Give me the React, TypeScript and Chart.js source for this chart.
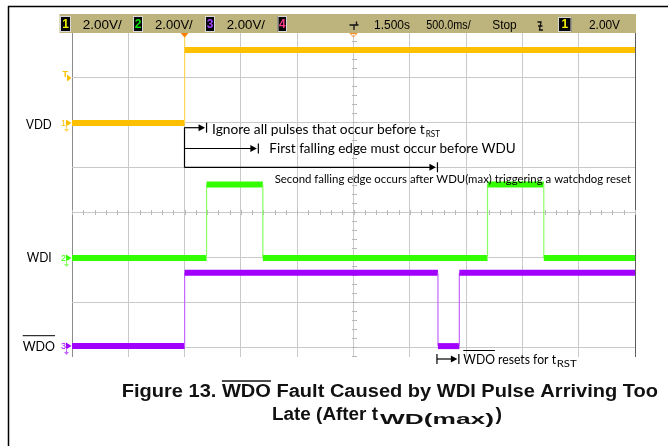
import React, { useEffect, useRef } from "react";
import { Chart, registerables } from "chart.js";

Chart.register(...registerables);

// Time in horizontal divisions (500 ms/div), level in vertical divisions (2 V/div)
const VDD_T = [0, 2.0, 2.0, 2.0, 10];
const VDD_V = [1.98, 1.98, 3.92, 3.6, 3.6];
const WDI_T = [0, 2.39, 2.39, 3.39, 3.39, 7.38, 7.38, 8.38, 8.38, 10];
const WDI_V = [-1.02, -1.02, 0.61, 0.61, -1.02, -1.02, 0.61, 0.61, -1.02, -1.02];
const WDO_T = [0, 2.0, 2.0, 6.5, 6.5, 6.88, 6.88, 10];
const WDO_V = [-2.98, -2.98, -1.35, -1.35, -2.98, -2.98, -1.35, -1.35];

const X_GRID = [0, 1, 2, 3, 4, 5, 6, 7, 8, 9, 10];
const Y_GRID = [-3, -2, -1, 0, 1, 2, 3, 4];

const CHANNEL_NAMES = ["VDD", "WDI", "WDO"];
const GROUND_LEVELS = [1.98, -1.02, -2.98];
const TRIGGER_LEVEL = 2.98;
const TRIGGER_TIME = 2.0;
const DELAY_MARK = 5.0;

const HEADER_SCALES = ["2.00V/", "2.00V/", "2.00V/"];
const TIME_POS = "1.500s";
const TIME_DIV = "500.0ms/";
const RUN_STATE = "Stop";
const TRIG_VALUE = "2.00V";

const YEL = "#fcc000";
const YEL_EDGE = "#ffd659";
const GRN = "#33ff00";
const GRN_EDGE = "#8cff66";
const PUR = "#a100ff";
const PUR_EDGE = "#c266ff";

const TXT = "Lato, 'Open Sans', sans-serif";
const ARIAL = "'Liberation Sans', Arial, sans-serif";

function fitText(ctx: CanvasRenderingContext2D, text: string, x: number, y: number, w: number, font: string, color: string) {
  ctx.save();
  ctx.font = font;
  ctx.fillStyle = color;
  ctx.textAlign = "left";
  ctx.textBaseline = "alphabetic";
  const m = ctx.measureText(text).width;
  const s = w / m;
  ctx.translate(x, y);
  ctx.scale(s, 1);
  ctx.fillText(text, 0, 0);
  ctx.restore();
  return s;
}

function measure(ctx: CanvasRenderingContext2D, text: string, font: string) {
  ctx.save();
  ctx.font = font;
  const w = ctx.measureText(text).width;
  ctx.restore();
  return w;
}

function hline(ctx: CanvasRenderingContext2D, x0: number, x1: number, y: number, w = 1, c = "#000") {
  ctx.save();
  ctx.strokeStyle = c;
  ctx.lineWidth = w;
  ctx.beginPath();
  ctx.moveTo(x0, y);
  ctx.lineTo(x1, y);
  ctx.stroke();
  ctx.restore();
}

function vline(ctx: CanvasRenderingContext2D, x: number, y0: number, y1: number, w = 1, c = "#000") {
  ctx.save();
  ctx.strokeStyle = c;
  ctx.lineWidth = w;
  ctx.beginPath();
  ctx.moveTo(x, y0);
  ctx.lineTo(x, y1);
  ctx.stroke();
  ctx.restore();
}

function arrowRight(ctx: CanvasRenderingContext2D, x0: number, x1: number, y: number, barH: number, startBar = false) {
  hline(ctx, x0, x1 - 6, y, 1.2);
  ctx.save();
  ctx.fillStyle = "#000";
  ctx.beginPath();
  ctx.moveTo(x1 - 8, y - 3.5);
  ctx.lineTo(x1 - 1.5, y);
  ctx.lineTo(x1 - 8, y + 3.5);
  ctx.closePath();
  ctx.fill();
  ctx.restore();
  vline(ctx, x1, y - barH / 2, y + barH / 2, 1.2);
  if (startBar) vline(ctx, x0, y - barH / 2, y + barH / 2, 1.2);
}

function chanBox(ctx: CanvasRenderingContext2D, x0: number, x1: number, y0: number, y1: number, digit: string, color: string) {
  ctx.save();
  ctx.fillStyle = "#050505";
  ctx.fillRect(x0, y0, x1 - x0, y1 - y0);
  ctx.strokeStyle = "#d8d8d8";
  ctx.lineWidth = 1;
  ctx.strokeRect(x0 + 0.5, y0 + 0.5, x1 - x0 - 1, y1 - y0 - 1);
  ctx.fillStyle = color;
  ctx.font = `bold 12px ${ARIAL}`;
  ctx.textAlign = "center";
  ctx.textBaseline = "middle";
  ctx.fillText(digit, (x0 + x1) / 2, (y0 + y1) / 2 + 0.5);
  ctx.restore();
}

function chanMarker(ctx: CanvasRenderingContext2D, digit: string, py: number, color: string, edge: string) {
  ctx.save();
  ctx.fillStyle = color;
  ctx.font = `9px ${ARIAL}`;
  ctx.textAlign = "left";
  ctx.textBaseline = "alphabetic";
  ctx.fillText(digit, 61, py + 3);
  ctx.beginPath();
  ctx.moveTo(66, py - 3.5);
  ctx.lineTo(71.5, py);
  ctx.lineTo(66, py + 3.5);
  ctx.closePath();
  ctx.fill();
  // ground symbol
  ctx.strokeStyle = edge;
  ctx.fillStyle = edge;
  ctx.lineWidth = 1;
  ctx.beginPath();
  ctx.moveTo(66.5, py + 2);
  ctx.lineTo(66.5, py + 6);
  ctx.stroke();
  ctx.beginPath();
  ctx.moveTo(64, py + 6);
  ctx.lineTo(69, py + 6);
  ctx.lineTo(66.5, py + 9);
  ctx.closePath();
  ctx.fill();
  ctx.restore();
}

const scopePlugin = {
  id: "scope",
  beforeDatasetsDraw(chart: any) {
    const { ctx, scales } = chart;
    const xs = scales.x, ys = scales.y;
    const cx = Math.round(xs.getPixelForValue(5)) + 0.5;
    const cy = Math.round(ys.getPixelForValue(0)) + 0.5;
    ctx.save();
    ctx.strokeStyle = "#b8b8b8";
    ctx.lineWidth = 1;
    ctx.beginPath();
    for (let i = 0; i <= 50; i++) {
      const p = Math.round(xs.getPixelForValue(i / 5)) + 0.5;
      ctx.moveTo(p, cy - 2.5);
      ctx.lineTo(p, cy + 2.5);
    }
    for (let i = -16; i <= 20; i++) {
      const p = Math.round(ys.getPixelForValue(i / 5)) + 0.5;
      ctx.moveTo(cx - 2.5, p);
      ctx.lineTo(cx + 2.5, p);
    }
    ctx.stroke();
    ctx.restore();
  },
  afterDatasetsDraw(chart: any) {
    const { ctx, scales } = chart;
    const xs = scales.x;
    const px = (v: number) => xs.getPixelForValue(v);
    const x0 = Math.round(px(TRIGGER_TIME)) - 0.5;

    // bracket arrows
    vline(ctx, x0, 127.5, 167.5, 1.2);
    arrowRight(ctx, x0, px(WDI_T[1]), 127.7, 10);
    arrowRight(ctx, x0, px(3.31), 148.5, 10);
    arrowRight(ctx, x0, px(WDO_T[3]) - 0.5, 167.3, 10);
    arrowRight(ctx, px(WDO_T[3]) - 1, px(WDO_T[5]) - 0.5, 359, 10, true);

    fitText(ctx, "Ignore all pulses that occur before t", 212, 133.5, 212.7, `14px ${TXT}`, "#000");
    fitText(ctx, "RST", 425.7, 136.5, 14.3, `9px ${TXT}`, "#000");
    fitText(ctx, "First falling edge must occur before WDU", 269.3, 153, 246.4, `14px ${TXT}`, "#000");
    fitText(ctx, "Second falling edge occurs after WDU(max) triggering a watchdog reset", 274.7, 182.5, 356.3, `11px ${TXT}`, "#000");

    const sW = fitText(ctx, "WDO resets for t", 463.3, 364, 92.7, `14px ${TXT}`, "#000");
    const wdoW = measure(ctx, "WDO", `14px ${TXT}`) * sW;
    hline(ctx, 463.3, 463.3 + wdoW, 350.5, 1);
    fitText(ctx, "RST", 556.7, 366.5, 20, `10px ${TXT}`, "#000");
  },
  afterDraw(chart: any) {
    const { ctx, scales } = chart;
    const xs = scales.x, ys = scales.y;
    const px = (v: number) => xs.getPixelForValue(v);
    const py = (v: number) => ys.getPixelForValue(v);

    // channel names
    fitText(ctx, CHANNEL_NAMES[0], 26, 129, 25.7, `13px ${TXT}`, "#000");
    fitText(ctx, CHANNEL_NAMES[1], 26.7, 261.7, 25, `13px ${TXT}`, "#000");
    fitText(ctx, CHANNEL_NAMES[2], 22.7, 351, 32.3, `13px ${TXT}`, "#000");
    hline(ctx, 22.7, 55, 335.7, 1);

    // channel ground markers and trigger level
    chanMarker(ctx, "1", py(GROUND_LEVELS[0]), YEL, YEL_EDGE);
    chanMarker(ctx, "2", py(GROUND_LEVELS[1]), GRN, GRN_EDGE);
    chanMarker(ctx, "3", py(GROUND_LEVELS[2]), PUR, PUR_EDGE);
    const ty = py(TRIGGER_LEVEL);
    ctx.save();
    ctx.fillStyle = YEL;
    ctx.font = `bold 9px ${ARIAL}`;
    ctx.fillText("T", 62.5, ty - 1);
    ctx.beginPath();
    ctx.moveTo(67, ty - 3.5);
    ctx.lineTo(71.5, ty);
    ctx.lineTo(67, ty + 3.5);
    ctx.closePath();
    ctx.fill();
    ctx.restore();

    // header bar
    ctx.save();
    ctx.fillStyle = "#bdb37c";
    ctx.fillRect(59.5, 14, 636 - 59.5, 19);
    ctx.restore();
    chanBox(ctx, 60, 71, 16, 32, "1", "#f0f000");
    chanBox(ctx, 133, 143, 16, 32, "2", "#10e010");
    chanBox(ctx, 205, 215, 16, 32, "3", "#a040ff");
    chanBox(ctx, 277.5, 287, 16, 32, "4", "#ff3c8c");
    chanBox(ctx, 558, 571.5, 17, 32, "1", "#f0f000");
    const hf = `12.5px ${ARIAL}`;
    const hc = "#000";
    fitText(ctx, HEADER_SCALES[0], 82.7, 28.5, 39, hf, hc);
    fitText(ctx, HEADER_SCALES[1], 155, 28.5, 37.7, hf, hc);
    fitText(ctx, HEADER_SCALES[2], 226.7, 28.5, 38.3, hf, hc);
    fitText(ctx, TIME_POS, 374, 28.5, 36, hf, hc);
    fitText(ctx, TIME_DIV, 426.3, 28.5, 44.4, hf, hc);
    fitText(ctx, RUN_STATE, 492.3, 28.5, 24.4, hf, hc);
    fitText(ctx, TRIG_VALUE, 589, 28.5, 31, hf, hc);

    // trigger position symbol
    ctx.save();
    ctx.strokeStyle = "#111";
    ctx.lineWidth = 1.3;
    ctx.beginPath();
    ctx.moveTo(349.5, 25);
    ctx.lineTo(358.5, 25);
    ctx.moveTo(354, 25);
    ctx.lineTo(354, 30);
    ctx.moveTo(356.5, 21.5);
    ctx.lineTo(356.5, 25);
    ctx.stroke();
    // falling edge symbol
    ctx.beginPath();
    ctx.moveTo(537.5, 22);
    ctx.lineTo(541, 22);
    ctx.lineTo(539.5, 30);
    ctx.lineTo(543, 30);
    ctx.moveTo(538, 26);
    ctx.lineTo(542.5, 26);
    ctx.stroke();
    ctx.restore();

    // trigger point marker and delay marker
    const tx = px(TRIGGER_TIME);
    ctx.save();
    ctx.fillStyle = "#ff7f00";
    ctx.beginPath();
    ctx.moveTo(tx - 4, 33);
    ctx.lineTo(tx + 4, 33);
    ctx.lineTo(tx, 37.5);
    ctx.closePath();
    ctx.fill();
    const dx = px(DELAY_MARK);
    ctx.strokeStyle = "#ff8a1c";
    ctx.lineWidth = 1;
    ctx.beginPath();
    ctx.moveTo(dx - 3.5, 33.5);
    ctx.lineTo(dx + 3.5, 33.5);
    ctx.lineTo(dx, 37);
    ctx.closePath();
    ctx.stroke();
    ctx.restore();

    // caption
    const cf = `bold 18px ${ARIAL}`;
    const line1 = "Figure 13. WDO Fault Caused by WDI Pulse Arriving Too";
    const s1 = fitText(ctx, line1, 121.7, 397, 536.3, cf, "#111");
    const pre = measure(ctx, "Figure 13. ", cf) * s1;
    const wdo = measure(ctx, "WDO", cf) * s1;
    hline(ctx, 121.7 + pre, 121.7 + pre + wdo, 381, 1.6, "#111");
    fitText(ctx, "Late (After t", 272, 420, 106, cf, "#111");
    fitText(ctx, "WD(max)", 380, 424, 114, `bold 15px ${ARIAL}`, "#111");
    fitText(ctx, ")", 495.5, 420, 6.5, cf, "#111");

    // outer frame lines
    hline(ctx, 8, 668, 6.5, 1.5, "#000");
    vline(ctx, 8.5, 6, 446, 1.5, "#000");
  },
};

function series(ts: number[], vs: number[], color: string, edge: string, label: string) {
  return {
    label,
    data: ts.map((t, i) => ({ x: t, y: vs[i] })),
    borderColor: color,
    borderWidth: 6,
    pointRadius: 0,
    tension: 0,
    fill: false,
    segment: {
      borderWidth: (c: any) => (c.p0.parsed.x === c.p1.parsed.x ? 1.2 : 6),
      borderColor: (c: any) => (c.p0.parsed.x === c.p1.parsed.x ? edge : color),
    },
  };
}

export default function App() {
  const ref = useRef<HTMLCanvasElement>(null);
  useEffect(() => {
    document.body.style.margin = "0";
    const canvas = ref.current!;
    const gridColor = (edgeL: string, edgeR: string, lo: number, hi: number) => (c: any) => {
      const v = c.tick && c.tick.value;
      if (v === lo) return edgeL;
      if (v === hi) return edgeR;
      return "#c9c9c9";
    };
    const chart = new Chart(canvas, {
      type: "line",
      data: {
        datasets: [
          series(VDD_T, VDD_V, YEL, YEL_EDGE, "VDD"),
          series(WDI_T, WDI_V, GRN, GRN_EDGE, "WDI"),
          series(WDO_T, WDO_V, PUR, PUR_EDGE, "WDO"),
        ] as any,
      },
      options: {
        animation: false,
        responsive: false,
        events: [],
        layout: { padding: { left: 72, right: 33, top: 32, bottom: 89 } },
        plugins: { legend: { display: false }, tooltip: { enabled: false }, title: { display: false } },
        scales: {
          x: {
            type: "linear",
            min: 0,
            max: 10,
            ticks: { display: false },
            border: { display: false },
            grid: { color: gridColor("#8c8c8c", "#5c5c5c", 0, 10), drawTicks: false, lineWidth: 1 },
            afterBuildTicks: (s: any) => {
              s.ticks = X_GRID.map((v) => ({ value: v }));
            },
          },
          y: {
            type: "linear",
            min: -3.222,
            max: 4,
            ticks: { display: false },
            border: { display: false },
            grid: { color: gridColor("#c9c9c9", "#c9c9c9", -99, 99), drawTicks: false, lineWidth: 1 },
            afterBuildTicks: (s: any) => {
              s.ticks = Y_GRID.map((v) => ({ value: v }));
            },
          },
        },
      } as any,
      plugins: [scopePlugin],
    });
    return () => chart.destroy();
  }, []);
  return (
    <div style={{ position: "absolute", left: 0, top: 0, width: 668, height: 446, background: "#fff" }}>
      <canvas ref={ref} width={668} height={446} style={{ display: "block" }} />
    </div>
  );
}
